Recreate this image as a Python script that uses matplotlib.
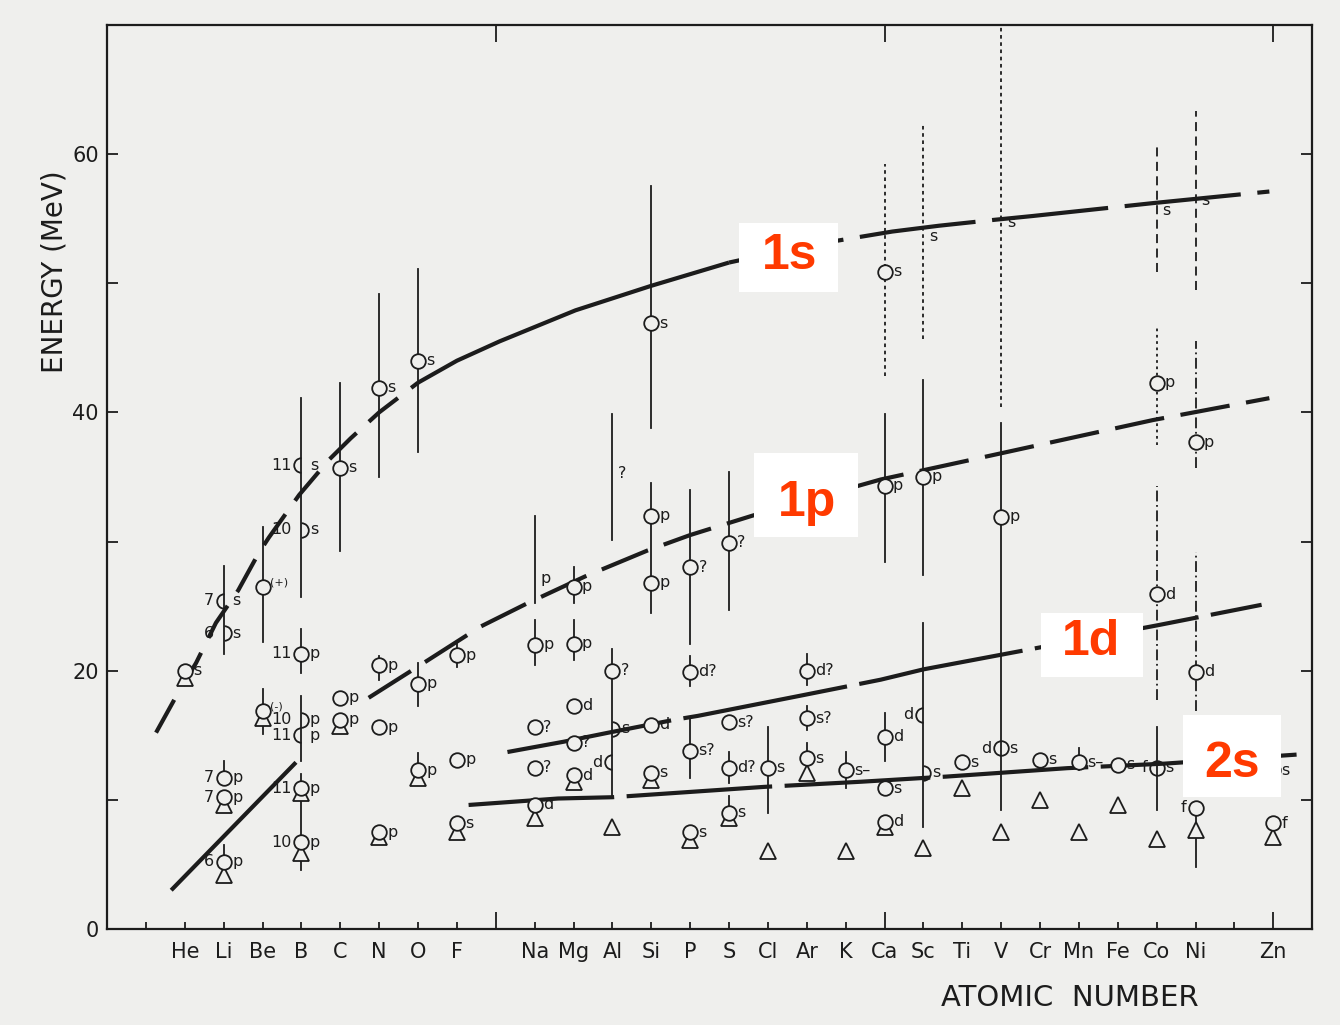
import numpy as np
import matplotlib.pyplot as plt
from matplotlib.path import Path
from matplotlib.patches import Rectangle
from matplotlib.ticker import FixedLocator, MultipleLocator

paper = '#efefed'
ink = '#1c1c1c'
shell_red = '#ff3a00'

# element symbols on the atomic-number axis
elem_z = [2, 3, 4, 5, 6, 7, 8, 9, 11, 12, 13, 14, 15, 16, 17, 18, 19, 20,
          21, 22, 23, 24, 25, 26, 27, 28, 30]
elem_sym = ['He', 'Li', 'Be', 'B', 'C', 'N', 'O', 'F', 'Na', 'Mg', 'Al', 'Si',
            'P', 'S', 'Cl', 'Ar', 'K', 'Ca', 'Sc', 'Ti', 'V', 'Cr', 'Mn', 'Fe',
            'Co', 'Ni', 'Zn']

# shell systematics curves (Z, MeV)
s1_z = [1.26, 1.83, 2.29, 2.8, 3.37, 3.9, 4.16, 4.94, 5.7, 6.27, 7.0, 8.0,
        9.0, 10.1, 12.05, 14.0, 16.0, 18.0, 20.2, 21.4, 22.8, 23.8, 26.9, 29.9]
s1_e = [15.2, 18.3, 20.6, 23.7, 26.2, 29.1, 30.3, 33.6, 36.3, 38.0, 40.0, 42.3,
        44.0, 45.5, 47.9, 49.8, 51.6, 52.9, 54.0, 54.45, 54.9, 55.2, 56.2, 57.1]
p1_light_z = [1.65, 4.86]
p1_light_e = [3.0, 12.9]
p1_z = [6.73, 8.25, 9.6, 10.8, 12.3, 13.9, 15.0, 16.6, 19.9, 22.8, 26.9, 29.9]
p1_e = [17.9, 20.8, 23.4, 25.2, 27.3, 29.3, 30.5, 32.0, 34.8, 36.7, 39.4, 41.1]
d1_z = [10.3, 11.75, 12.9, 14.6, 15.2, 17.9, 19.9, 21.0, 24.0, 27.0, 29.7]
d1_e = [13.7, 14.5, 15.2, 16.2, 16.5, 18.1, 19.3, 20.1, 21.8, 23.5, 25.1]
s2_z = [9.3, 11.6, 13.0, 16.9, 19.4, 21.6, 24.7, 27.2, 30.6]
s2_e = [9.6, 10.1, 10.2, 11.0, 11.4, 11.8, 12.45, 12.8, 13.5]

# (p,2p) peaks: open circles
circ_z = [2,
          3, 3, 3,
          4, 4,
          5, 5, 5,
          6, 6, 6,
          7, 7, 7, 7,
          8, 8, 8,
          9, 9, 9,
          11, 11, 11, 11,
          12, 12, 12, 12, 12,
          13,
          14, 14, 14, 14, 14,
          15, 15, 15, 15,
          16, 16, 16, 16,
          17,
          18, 18, 18,
          19,
          20, 20, 20, 20, 20,
          21, 22, 23, 24, 25, 26,
          27, 27,
          28, 28, 28,
          30]
circ_e = [20.0,
          11.7, 10.2, 5.2,
          26.5, 16.9,
          21.3, 10.9, 6.7,
          35.7, 17.9, 16.2,
          41.9, 20.4, 15.6, 7.5,
          44.0, 19.0, 12.3,
          21.2, 13.1, 8.2,
          22.0, 15.6, 12.5, 9.6,
          26.5, 22.1, 17.3, 14.4, 11.9,
          20.0,
          46.9, 32.0, 26.8, 15.8, 12.1,
          28.0, 19.9, 13.8, 7.5,
          29.9, 16.0, 12.5, 9.0,
          12.5,
          20.0, 16.3, 13.2,
          12.3,
          50.9, 34.3, 14.9, 10.9, 8.3,
          35.0, 12.9, 31.9, 13.1, 12.9, 12.7,
          42.3, 25.9,
          37.7, 19.9, 9.4,
          8.2]
circ_lab = ['s',
            'p', 'p', 'p',
            '(+)', '(-)',
            'p', 'p', 'p',
            's', 'p', 'p',
            's', 'p', 'p', 'p',
            's', 'p', 'p',
            'p', 'p', 's',
            'p', '?', '?', 'd',
            'p', 'p', 'd', '?', 'd',
            '?',
            's', 'p', 'p', 'd', 's',
            '?', 'd?', 's?', 's',
            '?', 's?', 'd?', 's',
            's',
            'd?', 's?', 's',
            's\u2013',
            's', 'p', 'd', 's', 'd',
            'p', 's', 'p', 's', 's\u2013', 's',
            'p', 'd',
            'p', 'd', '',
            'f']

# (e,e'p) peaks: open triangles
tri_z = [2, 3, 3, 4, 5, 5, 6, 7, 8, 9, 11, 12, 13, 14, 15, 16, 17, 18, 19,
         20, 21, 22, 23, 24, 25, 26, 27, 28, 30]
tri_e = [19.4, 9.6, 4.2, 16.3, 10.5, 5.9, 15.7, 7.1, 11.7, 7.5, 8.6, 11.4,
         7.9, 11.5, 6.9, 8.6, 6.0, 12.1, 6.0, 7.9, 6.3, 10.9, 7.5, 10.0, 7.5,
         9.6, 7.0, 7.7, 7.1]

# peak widths: (Z, low, high, line style)
bar_z = [3, 3, 3, 4, 4, 5, 5, 5, 5, 6, 7, 7, 8, 8, 8, 9, 11, 11, 12, 12,
         13, 13, 14, 14, 15, 15, 15, 16, 16, 16, 17, 18, 18, 18, 19,
         20, 20, 20, 21, 21, 21, 23, 23, 25,
         27, 27, 27, 27, 28, 28, 28, 28]
bar_lo = [21.3, 11.7, 5.2, 22.2, 15.1, 25.7, 19.8, 13.0, 4.6, 29.3, 35.0, 19.3,
          36.9, 17.3, 12.3, 20.3, 25.2, 20.4, 25.2, 20.8,
          30.1, 10.2, 38.8, 24.5, 22.1, 18.8, 11.7, 24.7, 11.3, 9.0, 9.0,
          18.9, 15.4, 13.2, 10.9,
          42.8, 28.4, 13.0, 45.7, 27.4, 7.9, 40.4, 9.2, 12.3,
          50.9, 37.5, 17.7, 9.2, 49.5, 35.7, 16.9, 4.8]
bar_hi = [28.1, 13.0, 6.5, 31.1, 18.6, 41.1, 23.2, 18.0, 12.0, 42.3, 49.2, 21.1,
          51.1, 20.6, 13.6, 22.3, 32.0, 23.9, 28.0, 23.9,
          39.9, 21.7, 57.5, 34.5, 34.0, 21.1, 16.3, 35.4, 13.7, 10.3, 15.6,
          21.3, 17.3, 14.4, 13.7,
          59.2, 39.9, 16.7, 62.3, 42.5, 23.7, 69.9, 39.2, 14.0,
          60.8, 46.8, 34.3, 15.6, 63.3, 45.5, 29.2, 9.4]
dotted = (0, (2, 2))
dashed = (0, (5, 3))
dashdot = (0, (6, 2, 1, 2))
bar_ls = (['-'] * 35
          + [dotted, '-', '-']            # Ca
          + [dotted, '-', '-']            # Sc
          + [dotted, '-']                 # V
          + ['-']                         # Mn
          + [dashed, (0, (1.5, 2)), dashdot, '-']   # Co
          + [dashed, dashdot, dashdot, '-'])        # Ni

# split peaks drawn as half circles: side, label right, label left
arc_z = [3, 3, 5, 5, 5, 5, 13, 13, 21, 21, 23, 23, 27, 27, 30]
arc_e = [25.4, 22.9, 35.9, 30.9, 16.2, 15.0, 15.5, 12.9, 16.6, 12.1, 14.0,
         14.0, 12.5, 12.5, 12.3]
arc_side = ['L', 'R', 'L', 'R', 'R', 'L', 'R', 'L', 'L', 'R', 'L', 'R', 'L',
            'R', 'R']
arc_lab = ['s', 's', 's', 's', 'p', 'p', 's', '', '', 's', '', 's', '', 's',
           's']
arc_pre = ['7', '6', '11', '10', '10', '11', '', 'd', 'd', '', 'd', '', 'f',
           '', '']

# numbers / tags written left of a circle
pre_z = [3, 3, 3, 5, 5, 5, 28]
pre_e = [11.7, 10.2, 5.2, 21.3, 10.9, 6.7, 9.4]
pre_txt = ['7', '7', '6', '11', '11', '10', 'f']

# tags written beside a bare width line
tag_z = [11, 13, 21, 23, 27, 28]
tag_e = [27.1, 35.3, 53.6, 54.7, 55.6, 56.4]
tag_txt = ['p', '?', 's', 's', 's', 's']

# shell names in boxes
shell_txt = ['1s', '1p', '1d', '2s']
shell_z = [17.56, 18.0, 25.3, 28.95]
shell_e = [51.1, 32.0, 21.2, 11.75]


fig = plt.figure(figsize=(13.4, 10.25), dpi=100, facecolor=paper)
ax = fig.add_axes([0.0799, 0.0937, 0.8993, 0.882])
ax.set_facecolor(paper)
ax.set_xlim(0, 31)
ax.set_ylim(0, 70)

for sp in ax.spines.values():
    sp.set_linewidth(1.6)
    sp.set_color(ink)

ax.xaxis.set_major_locator(FixedLocator([10, 20, 30]))
ax.xaxis.set_minor_locator(MultipleLocator(1))
ax.yaxis.set_major_locator(MultipleLocator(20))
ax.yaxis.set_minor_locator(MultipleLocator(10))
ax.tick_params(axis='x', which='major', direction='in', length=12, width=1.3,
               top=True, bottom=True, labelbottom=False, color=ink)
ax.tick_params(axis='x', which='minor', direction='in', length=5, width=1.3,
               top=False, bottom=True, color=ink)
ax.tick_params(axis='y', which='both', direction='in', length=8, width=1.3,
               left=True, right=True, color=ink)
ax.tick_params(axis='y', which='major', labelsize=15, pad=6, labelcolor=ink)

for z, sym in zip(elem_z, elem_sym):
    ax.text(z, -0.026, sym, transform=ax.get_xaxis_transform(), ha='center',
            va='center', fontsize=15, color=ink)

fig.text(55 / 1340, 1 - 272 / 1025, 'ENERGY (MeV)', rotation=90, ha='center',
         va='center', fontsize=20, color=ink)
fig.text(1070 / 1340, 1 - 998 / 1025, 'ATOMIC  NUMBER', ha='center',
         va='center', fontsize=21, color=ink)


def draw_curve(zs, es, spans):
    zs = np.asarray(zs)
    es = np.asarray(es)
    for lo, hi, ls in spans:
        m = (zs >= lo) & (zs <= hi)
        ax.plot(zs[m], es[m], color=ink, lw=3.0, ls=ls,
                solid_capstyle='butt', dash_capstyle='butt',
                solid_joinstyle='round', zorder=3)


draw_curve(s1_z, s1_e, [(1.0, 8.0, (0, (9, 4))), (8.0, 16.0, '-'),
                        (16.0, 31.0, (0, (28, 4)))])
draw_curve(p1_light_z, p1_light_e, [(1.0, 5.0, '-')])
draw_curve(p1_z, p1_e, [(6.0, 31.0, (0, (12, 4)))])
draw_curve(d1_z, d1_e, [(10.0, 31.0, (0, (40, 3)))])
draw_curve(s2_z, s2_e, [(9.0, 31.0, (0, (35, 3)))])

for z, lo, hi, ls in zip(bar_z, bar_lo, bar_hi, bar_ls):
    ax.plot([z, z], [lo, hi], color=ink, lw=1.3, ls=ls, zorder=2)

ax.plot(tri_z, tri_e, '^', ms=11.5, mfc=paper, mec=ink, mew=1.3, ls='none',
        zorder=4)
ax.plot(circ_z, circ_e, 'o', ms=10.5, mfc=paper, mec=ink, mew=1.3, ls='none',
        zorder=5)

for z, e, lab in zip(circ_z, circ_e, circ_lab):
    if not lab:
        continue
    if lab.startswith('('):
        # parity tags on the Be peaks sit a little high and small
        ax.annotate(lab, (z, e), xytext=(5, 3), textcoords='offset points',
                    ha='left', va='center', fontsize=8, color=ink, zorder=5)
    else:
        ax.annotate(lab, (z, e), xytext=(6, 0), textcoords='offset points',
                    ha='left', va='center', fontsize=11.5, color=ink,
                    zorder=5)

half_left = Path.arc(90, 270)
half_right = Path.arc(-90, 90)
for z, e, side, lab, pre in zip(arc_z, arc_e, arc_side, arc_lab, arc_pre):
    ax.plot([z], [e], marker=half_left if side == 'L' else half_right,
            ms=10.5, mfc='none', mec=ink, mew=1.3, ls='none', zorder=5)
    if lab:
        ax.annotate(lab, (z, e), xytext=(6, 0), textcoords='offset points',
                    ha='left', va='center', fontsize=11.5, color=ink)
    if pre:
        ax.annotate(pre, (z, e), xytext=(-7, 0), textcoords='offset points',
                    ha='right', va='center', fontsize=11.5, color=ink)

for z, e, t in zip(pre_z, pre_e, pre_txt):
    ax.annotate(t, (z, e), xytext=(-7, 0), textcoords='offset points',
                ha='right', va='center', fontsize=11.5, color=ink)

for z, e, t in zip(tag_z, tag_e, tag_txt):
    ax.annotate(t, (z, e), xytext=(4, 0), textcoords='offset points',
                ha='left', va='center', fontsize=11.5, color=ink)

# white boxes behind the shell names
box_w = [2.55, 2.67, 2.62, 2.52]
box_h = [5.4, 6.5, 5.0, 6.4]
box_cz = [17.52, 17.97, 25.34, 28.95]
box_ce = [52.0, 33.6, 22.0, 13.4]
for cz, ce, w, h in zip(box_cz, box_ce, box_w, box_h):
    ax.add_patch(Rectangle((cz - w / 2, ce - h / 2), w, h, fc='white',
                           ec='none', zorder=8))
for z, e, t in zip(shell_z, shell_e, shell_txt):
    ax.text(z, e, t, ha='center', va='baseline', fontsize=36,
            fontweight='bold', family='Liberation Sans', color=shell_red,
            zorder=9)

fig.savefig('out.png', dpi=100, facecolor=paper)
